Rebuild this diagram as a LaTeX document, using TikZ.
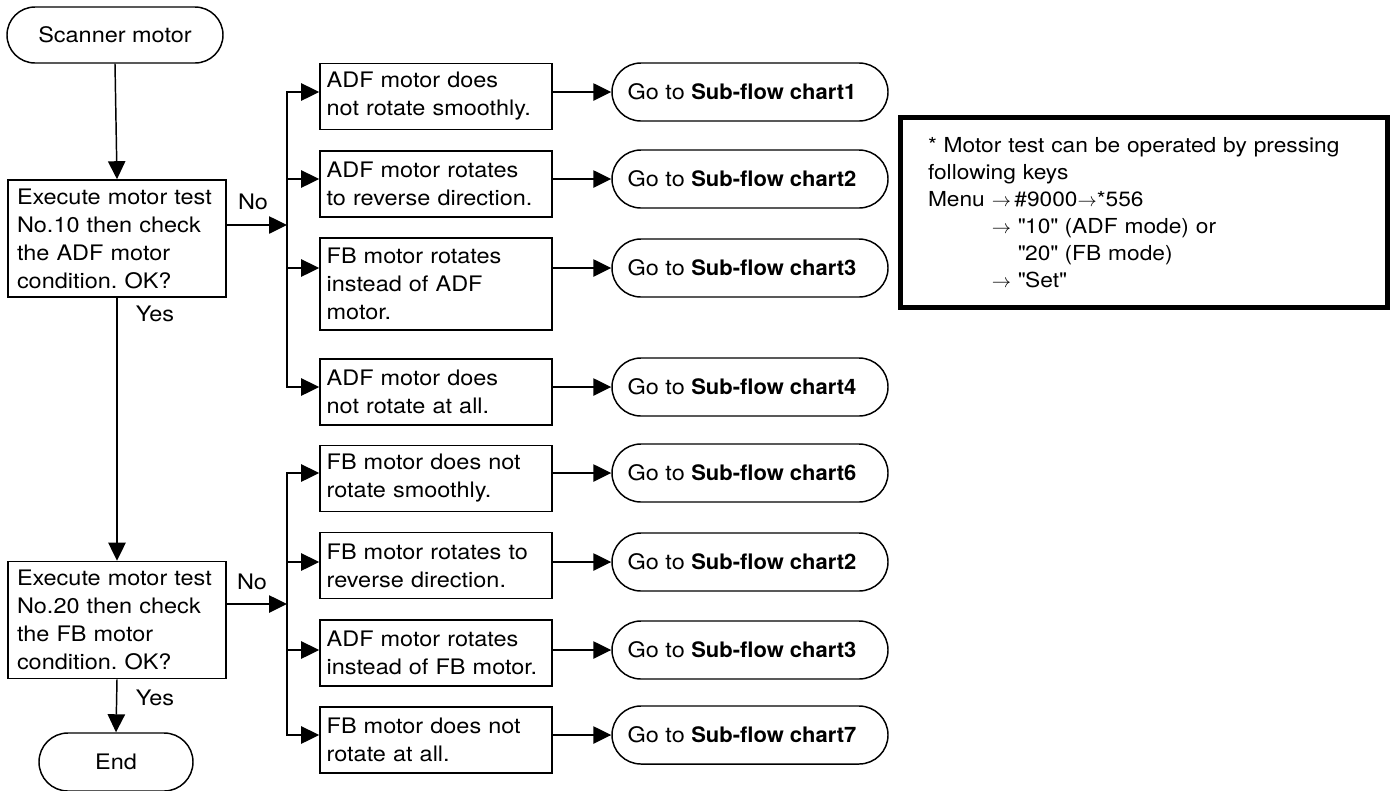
\documentclass[tikz,border=0pt]{standalone}
\usepackage{fontspec}
\setmainfont{TeX Gyre Heros}[FakeStretch=1.1]
\newfontfamily\subbf{TeX Gyre Heros}[FakeStretch=1.03]
\usetikzlibrary{arrows.meta}
\newcommand{\gosub}[1]{Go to {\subbf\bfseries Sub-flow chart#1}\hspace*{12pt}}
\begin{document}
\frenchspacing
\begin{tikzpicture}[x=0.75pt,y=-0.75pt,
  every node/.style={font=\fontsize{16pt}{21pt}\selectfont},
  arr/.style={line width=1.1pt,-{Triangle[length=13.5pt,width=13pt]}},
  term/.style={draw,line width=1.1pt,rectangle,rounded corners=21pt,minimum height=42pt,inner sep=0pt},
  subterm/.style={term,minimum width=207pt,minimum height=43.5pt,rounded corners=21.7pt},
  decbox/.style={draw,line width=1.2pt,rectangle,minimum width=163.5pt,minimum height=87.75pt,text width=150pt,inner xsep=6.75pt,inner ysep=0pt,align=left},
  stepbox/.style={draw,line width=1.2pt,rectangle,minimum height=49.5pt,text width=164pt,inner xsep=5pt,inner ysep=0pt,align=left},
  lbl/.style={inner sep=0pt},
  notebox/.style={draw,line width=3.3pt,rectangle,minimum width=365.25pt,minimum height=142.5pt,text width=324pt,inner xsep=20.6pt,inner ysep=0pt,align=left,font=\fontsize{15.5pt}{20.25pt}\selectfont}
]
\useasboundingbox (0,0) rectangle (1391,790);

% left column
\node[term,minimum width=162pt] (start) at (115,35) {Scanner motor};
\node[decbox] (d1) at (117,238.5) {Execute motor test\\No.10 then check\\the ADF motor\\condition. OK?};
\node[decbox] (d2) at (117,620) {Execute motor test\\No.20 then check\\the FB motor\\condition. OK?};
\node[term,minimum width=115.5pt,minimum height=43.5pt,rounded corners=21.7pt] (end) at (116,762) {End};

\draw[arr] (start.south) -- (d1.north);
\draw[arr] (d1.south) -- (d2.north);
\draw[arr] (d2.south) -- (end.north);
\node[lbl] (yes1) at (155,314) {Yes};
\node[lbl] (yes2) at (155,698) {Yes};
\node[lbl] (no1) at (253,202) {No};
\node[lbl] (no2) at (252,582) {No};

\coordinate (j1) at (287,225);
\coordinate (j2) at (287,604);
\draw[arr] (d1.east |- j1) -- (j1);
\draw[arr] (d2.east |- j2) -- (j2);

% upper boxes
\node[stepbox] (b1) at (436,96.5) {ADF motor does\\not rotate smoothly.};
\node[stepbox] (b2) at (436,184) {ADF motor rotates\\to reverse direction.};
\node[stepbox,minimum height=69pt] (b3) at (436,284) {FB motor rotates\\instead of ADF\\motor.};
\node[stepbox] (b4) at (436,392) {ADF motor does\\not rotate at all.};
% lower boxes
\node[stepbox] (b5) at (436,478.5) {FB motor does not\\rotate smoothly.};
\node[stepbox] (b6) at (436,565.5) {FB motor rotates to\\reverse direction.};
\node[stepbox] (b7) at (436,653) {ADF motor rotates\\instead of FB motor.};
\node[stepbox] (b8) at (436,740) {FB motor does not\\rotate at all.};

% sub-flow terminals
\node[subterm] (t1) at (750,92) {\gosub{1}};
\node[subterm] (t2) at (750,179) {\gosub{2}};
\node[subterm] (t3) at (750,268) {\gosub{3}};
\node[subterm] (t4) at (750,387) {\gosub{4}};
\node[subterm] (t5) at (750,473) {\gosub{6}};
\node[subterm] (t6) at (750,562) {\gosub{2}};
\node[subterm] (t7) at (750,650) {\gosub{3}};
\node[subterm] (t8) at (750,735) {\gosub{7}};

% branches
\foreach \b/\t in {b1/t1,b2/t2,b3/t3,b4/t4}{
  \draw[arr] (j1) |- (\b.west |- \t.west);
}
\foreach \b/\t in {b5/t5,b6/t6,b7/t7,b8/t8}{
  \draw[arr] (j2) |- (\b.west |- \t.west);
}
\foreach \b/\t in {b1/t1,b2/t2,b3/t3,b4/t4,b5/t5,b6/t6,b7/t7,b8/t8}{
  \draw[arr] (\b.east |- \t.west) -- (\t.west);
}

% note
\node[notebox] (note) at (1144,212.5) {* Motor test can be operated by pressing\\
following keys\\
Menu $\rightarrow$\,\#9000$\rightarrow$*556\\
\hphantom{Menu }$\rightarrow$ \textquotedbl 10\textquotedbl{} (ADF mode) or\\
\hphantom{Menu $\rightarrow$ }\textquotedbl 20\textquotedbl{} (FB mode)\\
\hphantom{Menu }$\rightarrow$ \textquotedbl Set\textquotedbl};
\end{tikzpicture}
\end{document}
